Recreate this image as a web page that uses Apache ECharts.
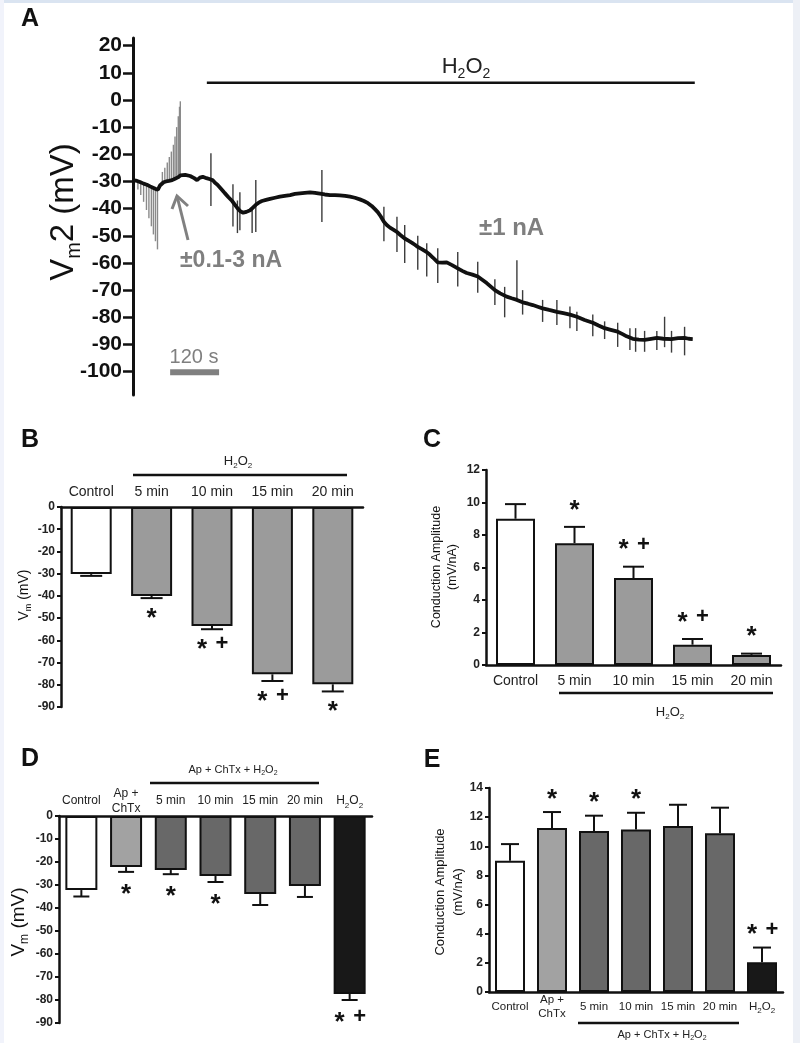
<!DOCTYPE html>
<html><head><meta charset="utf-8">
<script src="https://cdn.jsdelivr.net/npm/echarts@6/dist/echarts.min.js"></script>
<style>html,body{margin:0;padding:0;background:#fff}#c{width:800px;height:1043px}</style>
</head><body><div id="c"></div>
<script>
// ---------- Panel A: membrane potential trace ----------
const traceTime = [0,10,17,26,34,42,49,56,61,66,69,75,81,88,96,103,110,116,120,128,140,150,157,164,171,180,189,196,201,207,213,220,225,234,243,250,257,263,270,278,287,294,301,308,316,326,336,348,360,372,385,397,409,421,434,446,458,470,483,495,507,520,532,544,556,566,576,585,593,600,607,615,622,630,639,647,656,666,675,684,691,698,709,720,728,735,747,758,769,782,796,807,818,832,845,856,867,877,887,900,916,928,941,955,968,980,992,1004,1020,1039,1055,1071,1088,1107,1127,1141,1156,1171,1188,1200,1210,1225,1240,1254,1270,1284,1300,1320,1336,1352,1362,1372];
const traceVm = [-29.5,-29.8,-30.2,-30.8,-31.2,-31.8,-32.3,-32.8,-33,-31.5,-30.8,-30.3,-30,-29.8,-29.5,-29,-28.5,-27.8,-27.3,-27.6,-28,-28.8,-29.5,-28.6,-28.3,-28.8,-29.2,-29.6,-30.5,-31.2,-32.2,-33.4,-34.3,-35.8,-37.2,-38.6,-40,-41,-41.5,-41.2,-40.6,-39.6,-38.6,-37.8,-37.2,-36.8,-36.4,-36,-35.6,-35.3,-35,-34.6,-34.4,-34.2,-34,-34.2,-34.5,-34.8,-35,-35,-35.1,-35.3,-35.6,-36,-36.6,-37.2,-38,-39,-40.2,-41.3,-42.8,-44.8,-46,-47,-47.8,-48.6,-49.8,-51,-51.8,-52.6,-53.3,-54.1,-55,-56,-57,-58,-59.8,-59.9,-59.8,-60.8,-62,-62.9,-63.7,-64.3,-65,-66.2,-67.4,-68.7,-70,-71.2,-72.4,-73,-73.6,-74.5,-75,-75.5,-76.1,-76.7,-77.3,-78,-78.5,-79,-79.8,-81,-82,-83,-84,-84.6,-85.3,-86.2,-87,-87.9,-88.2,-88.3,-87.9,-87.6,-87.9,-88,-87.7,-87.6,-87.9,-88];
// current-injection deflections (time, top, bottom)
const spikeTime = [12,19,26,33,39,45,50,55,60,72,78,84,89,94,99,103,107,111,114,116,191,245,256,262,292,301,463,615,647,666,698,720,747,796,845,887,911,941,955,1004,1039,1071,1088,1127,1156,1188,1218,1232,1254,1284,1303,1320,1352];
const spikeTop = [-29.5,-30,-30.5,-31,-31.5,-32,-32.3,-32.6,-33,-26.5,-25,-23,-21,-19,-16.5,-13.5,-10,-6,-2.5,-0.5,-19.6,-31,-37,-34,-40,-29.5,-25.8,-39.3,-43,-46,-50,-52.7,-54.6,-56,-59.6,-66,-68.8,-59,-70,-73.6,-73.6,-76,-78,-79,-81.5,-82,-84,-84,-85,-85,-79.8,-85,-83.5];
const spikeBottom = [-33,-35,-37.5,-40.5,-43.5,-46.5,-49.5,-52,-55,-31,-30.5,-30.3,-30,-30,-29.7,-29.4,-29,-28.6,-28.2,-28,-39,-46.6,-49,-48,-49,-48.6,-44.9,-52,-56,-60,-62.5,-65,-67.4,-68.7,-71,-75.5,-80,-74,-79,-81.7,-82.8,-84,-85,-87,-88,-90.9,-92,-92.7,-92.7,-92,-91,-93,-94];
const ticksA = [20,10,0,-10,-20,-30,-40,-50,-60,-70,-80,-90,-100];
const h2o2Start = 181, h2o2End = 1377, h2o2Level = 6.3;
const scaleStart = 91, scaleLen = 120, scaleLevel = -100.2;

// ---------- Panel B ----------
const catB = ['Control','5 min','10 min','15 min','20 min'];
const vmB = [-30.2,-40,-53.6,-75.3,-79.8];
const errB = [0.8,1.0,1.4,3.0,3.2];
const sigB = ['','*','*+','*+','*'];
// ---------- Panel C ----------
const catC = ['Control','5 min','10 min','15 min','20 min'];
const ampC = [9.0,7.5,5.35,1.25,0.62];
const errC = [0.9,1.0,0.7,0.35,0.08];
const sigC = ['','*','*+','*+','*'];
// ---------- Panel D ----------
const catD = ['Control','Ap +\nChTx','5 min','10 min','15 min','20 min','H2O2'];
const vmD = [-32.2,-22.2,-23.5,-26.1,-33.9,-30.4,-77.4];
const errD = [2.8,2.1,1.8,2.6,4.8,4.8,2.6];
const sigD = ['','*','*','*','','','*+'];
// ---------- Panel E ----------
const catE = ['Control','Ap +\nChTx','5 min','10 min','15 min','20 min','H2O2'];
const ampE = [9.0,11.25,11.05,11.15,11.4,10.9,2.05];
const errE = [1.15,1.1,1.05,1.15,1.45,1.75,1.0];
const sigE = ['','*','*','*','','','*+'];

// ---------- styles ----------
const FF = '"Liberation Sans", Arial, Helvetica, sans-serif';
const INK = '#111';
const colB = ['#ffffff','#9b9b9b','#9b9b9b','#9b9b9b','#9b9b9b'];
const colD = ['#ffffff','#a2a2a2','#686868','#686868','#686868','#686868','#181818'];

const chart = echarts.init(document.getElementById('c'), null, {renderer:'canvas'});

function subFmt(v){ return v === 'H2O2' ? '{n|H}{s|2}{n|O}{s|2}' : v; }
function subRich(fs, lh){ return { n:{fontSize:fs, fontFamily:FF, color:'#222', lineHeight:lh}, s:{fontSize:Math.round(fs*0.7), fontFamily:FF, color:'#222', lineHeight:lh, verticalAlign:'bottom'} }; }

function errRender(dir, cap, sigs, off){
  return function(params, api){
    const i = api.value(0), v = api.value(1), e = api.value(2);
    const p0 = api.coord([i, v]);
    const p1 = api.coord([i, v + dir*e]);
    const ch = [
      {type:'line', shape:{x1:p0[0],y1:p0[1],x2:p1[0],y2:p1[1]}, style:{stroke:INK, lineWidth:2}},
      {type:'line', shape:{x1:p1[0]-cap/2,y1:p1[1],x2:p1[0]+cap/2,y2:p1[1]}, style:{stroke:INK, lineWidth:2}}
    ];
    const s = sigs[i] || '';
    const yInk = p1[1] - dir*off;
    const SF = 26, PF = 22;
    const hasS = s.indexOf('*') >= 0, hasP = s.indexOf('+') >= 0;
    if (hasS) ch.push({type:'text', x: p1[0] + (hasP ? -10 : 0), y: yInk + 0.21*SF,
      style:{text:'*', fontSize:SF, fontWeight:'bold', fontFamily:FF, fill:INK, align:'center', verticalAlign:'middle'}});
    if (hasP) ch.push({type:'text', x: p1[0] + 10, y: yInk,
      style:{text:'+', fontSize:PF, fontWeight:'bold', fontFamily:FF, fill:INK, align:'center', verticalAlign:'middle'}});
    return {type:'group', children: ch};
  };
}

function barAxisY(gi, min, max, interval){
  return {gridIndex:gi, type:'value', min:min, max:max, interval:interval,
    axisLine:{show:true, lineStyle:{color:INK, width:2.5}},
    axisTick:{show:true, length:4, lineStyle:{color:INK, width:2}},
    axisLabel:{fontSize:12, fontWeight:'bold', fontFamily:FF, color:'#222', margin:6},
    splitLine:{show:false}};
}
function catAxis(gi, data, pos, fs, margin){
  return {gridIndex:gi, type:'category', data:data, position:pos,
    axisLine:{show:true, lineStyle:{color:INK, width:2.5}},
    axisTick:{show:false},
    axisLabel:{interval:0, margin:margin, fontSize:fs, fontFamily:FF, color:'#222', verticalAlign:'middle', lineHeight:fs+3,
      formatter:subFmt, rich:subRich(fs, fs+5)}};
}
function rotLabel(x, y, text, rich){
  return {type:'text', x:x, y:y, rotation:Math.PI/2, style:Object.assign({text:text, align:'center', verticalAlign:'middle', fontFamily:FF, fill:INK}, rich)};
}
function vmRich(fs){
  const lh = Math.round(fs*1.25);
  return {rich:{a:{fontSize:fs, fontFamily:FF, fill:INK, color:INK, lineHeight:lh}, b:{fontSize:Math.round(fs*0.62), fontFamily:FF, fill:INK, color:INK, lineHeight:lh, verticalAlign:'bottom'}}};
}
function h2o2Text(x, y, fs){
  const lh = Math.round(fs*1.3);
  return {type:'text', x:x, y:y, style:{text:'{a|H}{b|2}{a|O}{b|2}', align:'center', verticalAlign:'middle',
    rich:{a:{fontSize:fs, fontFamily:FF, fill:'#222', lineHeight:lh}, b:{fontSize:Math.round(fs*0.65), fontFamily:FF, fill:'#222', lineHeight:lh, verticalAlign:'bottom'}}}};
}
function apText(x, y, fs){
  const lh = Math.round(fs*1.3);
  return {type:'text', x:x, y:y, style:{text:'{a|Ap + ChTx + H}{b|2}{a|O}{b|2}', align:'center', verticalAlign:'middle',
    rich:{a:{fontSize:fs, fontFamily:FF, fill:'#222', lineHeight:lh}, b:{fontSize:Math.round(fs*0.65), fontFamily:FF, fill:'#222', lineHeight:lh, verticalAlign:'bottom'}}}};
}
function hline(x1, x2, y, w){ return {type:'line', shape:{x1:x1,y1:y,x2:x2,y2:y}, style:{stroke:INK, lineWidth:w||2.5}}; }
function letter(x, y, t){ return {type:'text', x:x, y:y, style:{text:t, fontSize:25, fontWeight:'bold', fontFamily:FF, fill:INK, align:'center', verticalAlign:'middle'}}; }

const option = {
  animation:false,
  backgroundColor:'#ffffff',
  grid:[
    {left:133, top:38, width:563, height:357, outerBoundsMode:'none'},
    {left:61, top:507, width:302, height:200, outerBoundsMode:'none'},
    {left:486, top:470, width:295, height:195, outerBoundsMode:'none'},
    {left:59, top:816, width:313, height:207, outerBoundsMode:'none'},
    {left:489, top:788, width:294, height:204, outerBoundsMode:'none'}
  ],
  xAxis:[
    {gridIndex:0, type:'value', min:0, max:1380, show:false},
    catAxis(1, catB, 'top', 14, 15),
    catAxis(2, catC, 'bottom', 14, 16),
    catAxis(3, catD, 'top', 12, 15),
    catAxis(4, catE, 'bottom', 11.5, 15)
  ],
  yAxis:[
    {gridIndex:0, type:'value', min:-108.6, max:22.8,
      axisLine:{show:true, lineStyle:{color:INK, width:3}},
      axisTick:{show:true, length:10, lineStyle:{color:INK, width:2.5}, customValues:ticksA},
      axisLabel:{customValues:ticksA, fontSize:21, fontWeight:'bold', fontFamily:FF, color:INK, margin:11},
      splitLine:{show:false}},
    barAxisY(1, -90, 0, 10),
    barAxisY(2, 0, 12, 2),
    barAxisY(3, -90, 0, 10),
    barAxisY(4, 0, 14, 2)
  ],
  series:[
    {type:'custom', xAxisIndex:0, yAxisIndex:0, z:2,
      data: spikeTime.map((t,i)=>[t, spikeTop[i], spikeBottom[i]]), encode:{x:0, y:[1,2]},
      renderItem:(params, api)=>{
        const t = api.value(0);
        const a = api.coord([t, api.value(1)]), b = api.coord([t, api.value(2)]);
        return {type:'line', shape:{x1:a[0],y1:a[1],x2:b[0],y2:b[1]}, style:{stroke: t < 150 ? '#8a8a8a' : '#3c3c3c', lineWidth:1.4}};
      }},
    {type:'line', xAxisIndex:0, yAxisIndex:0, z:3, showSymbol:false, symbol:'none',
      data: traceTime.map((t,i)=>[t, traceVm[i]]), lineStyle:{color:INK, width:3.8}},
    {type:'line', xAxisIndex:0, yAxisIndex:0, symbol:'none',
      data:[[h2o2Start, h2o2Level],[h2o2End, h2o2Level]], lineStyle:{color:INK, width:2.5}},
    {type:'line', xAxisIndex:0, yAxisIndex:0, symbol:'none',
      data:[[scaleStart, scaleLevel],[scaleStart+scaleLen, scaleLevel]], lineStyle:{color:'#808080', width:6, cap:'butt'}},

    {type:'bar', xAxisIndex:1, yAxisIndex:1, barWidth:41,
      data: vmB.map((v,i)=>({value:v, itemStyle:{color:colB[i]}})), itemStyle:{borderColor:INK, borderWidth:2}},
    {type:'custom', xAxisIndex:1, yAxisIndex:1, z:5, encode:{x:0,y:1},
      data: vmB.map((v,i)=>[i, v, errB[i]]), renderItem: errRender(-1, 22, sigB, 15)},

    {type:'bar', xAxisIndex:2, yAxisIndex:2, barWidth:39,
      data: ampC.map((v,i)=>({value:v, itemStyle:{color:colB[i]}})), itemStyle:{borderColor:INK, borderWidth:2}},
    {type:'custom', xAxisIndex:2, yAxisIndex:2, z:5, encode:{x:0,y:1},
      data: ampC.map((v,i)=>[i, v, errC[i]]), renderItem: errRender(1, 21, sigC, 22)},

    {type:'bar', xAxisIndex:3, yAxisIndex:3, barWidth:32,
      data: vmD.map((v,i)=>({value:v, itemStyle:{color:colD[i]}})), itemStyle:{borderColor:INK, borderWidth:2}},
    {type:'custom', xAxisIndex:3, yAxisIndex:3, z:5, encode:{x:0,y:1},
      data: vmD.map((v,i)=>[i, v, errD[i]]), renderItem: errRender(-1, 16, sigD, 17)},

    {type:'bar', xAxisIndex:4, yAxisIndex:4, barWidth:30,
      data: ampE.map((v,i)=>({value:v, itemStyle:{color:colD[i]}})), itemStyle:{borderColor:INK, borderWidth:2}},
    {type:'custom', xAxisIndex:4, yAxisIndex:4, z:5, encode:{x:0,y:1},
      data: ampE.map((v,i)=>[i, v, errE[i]]), renderItem: errRender(1, 18, sigE, 18)}
  ],
  graphic:[
    {type:'rect', shape:{x:0,y:0,width:800,height:3}, style:{fill:'#dae4f1'}, z:-1},
    {type:'rect', shape:{x:0,y:0,width:4,height:1043}, style:{fill:'#f1f3fb'}, z:-1},
    {type:'rect', shape:{x:793,y:0,width:7,height:1043}, style:{fill:'#edf0f6'}, z:-1},
    letter(30,19,'A'), letter(30,440,'B'), letter(432,440,'C'), letter(30,759,'D'), letter(432,760,'E'),
    // Panel A annotations
    rotLabel(64, 212, '{a|V}{b|m}{a|2 (mV)}', vmRich(33)),
    h2o2Text(466, 67, 22),
    {type:'text', x:180, y:261, style:{text:'\u00b10.1-3 nA', fontSize:23, fontWeight:'bold', fontFamily:FF, fill:'#7f7f7f', align:'left', verticalAlign:'middle'}},
    {type:'text', x:479, y:228, style:{text:'\u00b11 nA', fontSize:24, fontWeight:'bold', fontFamily:FF, fill:'#7f7f7f', align:'left', verticalAlign:'middle'}},
    {type:'text', x:194, y:357, style:{text:'120 s', fontSize:20, fontFamily:FF, fill:'#7f7f7f', align:'center', verticalAlign:'middle'}},
    {type:'polyline', shape:{points:[[188,240],[177,196]]}, style:{stroke:'#808080', lineWidth:3}},
    {type:'polyline', shape:{points:[[172,209],[177,196],[188,206]]}, style:{stroke:'#808080', lineWidth:3, fill:null}},
    // Panel B
    h2o2Text(238, 461, 13), hline(133, 347, 475),
    rotLabel(24, 595, '{a|V}{b|m}{a| (mV)}', vmRich(14)),
    // Panel C
    hline(559, 773, 693), h2o2Text(670, 712, 13),
    rotLabel(445, 567, 'Conduction Amplitude\n(mV/nA)', {fontSize:12.5, lineHeight:16}),
    // Panel D
    apText(233, 770, 11), hline(150, 319, 783),
    rotLabel(19, 922, '{a|V}{b|m}{a| (mV)}', vmRich(19)),
    // Panel E
    hline(578, 739, 1023), apText(662, 1035, 11),
    rotLabel(449, 892, 'Conduction Amplitude\n(mV/nA)', {fontSize:13, lineHeight:18})
  ]
};
chart.setOption(option);
</script></body></html>
